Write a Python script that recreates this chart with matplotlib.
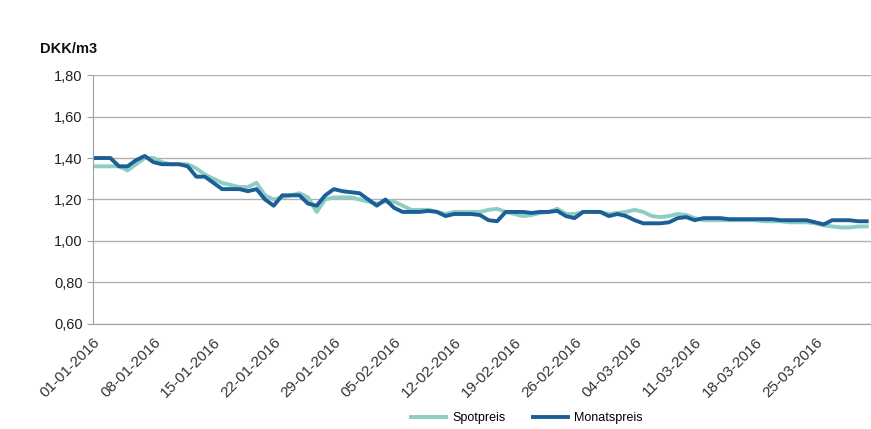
import pandas as pd
import matplotlib
matplotlib.use('Agg')
import matplotlib.pyplot as plt
import matplotlib.dates as md
from matplotlib.ticker import FuncFormatter

# daily prices, 01-01-2016 .. 31-03-2016 (DKK/m3)
monatspreis = [1.40, 1.40, 1.40, 1.36, 1.36, 1.39, 1.41, 1.38, 1.37, 1.37,
               1.37, 1.36, 1.31, 1.31, 1.28, 1.25, 1.25, 1.25, 1.24, 1.25,
               1.20, 1.17, 1.22, 1.22, 1.22, 1.18, 1.17, 1.22, 1.25, 1.24,
               1.235, 1.23, 1.20, 1.17, 1.20, 1.16, 1.14, 1.14, 1.14, 1.145,
               1.14, 1.12, 1.13, 1.13, 1.13, 1.125, 1.10, 1.095, 1.14, 1.14,
               1.14, 1.135, 1.14, 1.14, 1.145, 1.12, 1.11, 1.14, 1.14, 1.14,
               1.12, 1.13, 1.12, 1.10, 1.085, 1.085, 1.085, 1.09, 1.11, 1.115,
               1.10, 1.11, 1.11, 1.11, 1.105, 1.105, 1.105, 1.105, 1.105, 1.105,
               1.10, 1.10, 1.10, 1.10, 1.09, 1.08, 1.10, 1.10, 1.10, 1.095, 1.095]
spotpreis = [1.36, 1.36, 1.36, 1.36, 1.34, 1.37, 1.40, 1.40, 1.38, 1.37,
             1.37, 1.37, 1.35, 1.32, 1.30, 1.28, 1.27, 1.26, 1.26, 1.28,
             1.22, 1.20, 1.21, 1.22, 1.23, 1.21, 1.14, 1.20, 1.21, 1.21,
             1.21, 1.20, 1.19, 1.18, 1.19, 1.19, 1.17, 1.15, 1.15, 1.15,
             1.14, 1.13, 1.14, 1.14, 1.14, 1.14, 1.15, 1.155, 1.14, 1.13,
             1.12, 1.125, 1.135, 1.14, 1.155, 1.13, 1.13, 1.14, 1.14, 1.14,
             1.13, 1.135, 1.14, 1.15, 1.14, 1.12, 1.115, 1.12, 1.13, 1.125,
             1.11, 1.10, 1.10, 1.10, 1.10, 1.10, 1.10, 1.10, 1.095, 1.095,
             1.095, 1.09, 1.09, 1.09, 1.085, 1.075, 1.07, 1.065, 1.065, 1.07, 1.07]
dates = pd.date_range('2016-01-01', periods=len(monatspreis), freq='D')
tick_dates = pd.date_range('2016-01-01', '2016-03-25', freq='7D')

plt.rcParams['font.family'] = ['Liberation Sans', 'DejaVu Sans']

fig = plt.figure(figsize=(8.71, 4.29), dpi=100)
ax = fig.add_axes([0.107, 0.245, 0.893, 0.58])

ax.plot(dates, spotpreis, color='#8ecdc3', lw=2.8, label='Spotpreis')
ax.plot(dates, monatspreis, color='#1c5f96', lw=2.8, label='Monatspreis')

ax.set_ylim(0.6, 1.8)
ax.set_yticks([0.6, 0.8, 1.0, 1.2, 1.4, 1.6, 1.8])
ax.yaxis.set_major_formatter(FuncFormatter(lambda v, p: ('%.2f' % v).replace('.', ',')))
ax.set_xlim(dates[0], dates[-1] + pd.Timedelta(days=0.5))
ax.set_xticks(tick_dates)
ax.xaxis.set_major_formatter(md.DateFormatter('%d-%m-%Y'))
plt.setp(ax.get_xticklabels(), rotation=45, ha='right', rotation_mode='anchor')

ax.grid(axis='y', color='#b0b0b0', lw=1)
ax.set_axisbelow(True)
for s in ['top', 'right']:
    ax.spines[s].set_visible(False)
ax.spines['left'].set_color('#a0a0a0')
ax.spines['bottom'].set_color('#a0a0a0')
ax.tick_params(axis='y', colors='#a0a0a0', labelcolor='#222222', labelsize=10.5, length=4)
ax.tick_params(axis='x', length=0, labelcolor='#333333', labelsize=11, pad=8)

fig.text(0.046, 0.877, 'DKK/m3', fontsize=10.5, fontweight='bold', color='#111111')

fig.legend(loc='lower center', bbox_to_anchor=(0.605, -0.015), ncol=2, frameon=False,
           fontsize=9, handlelength=2.8, handletextpad=0.5, columnspacing=2.2)

plt.savefig('out.png', dpi=100)
